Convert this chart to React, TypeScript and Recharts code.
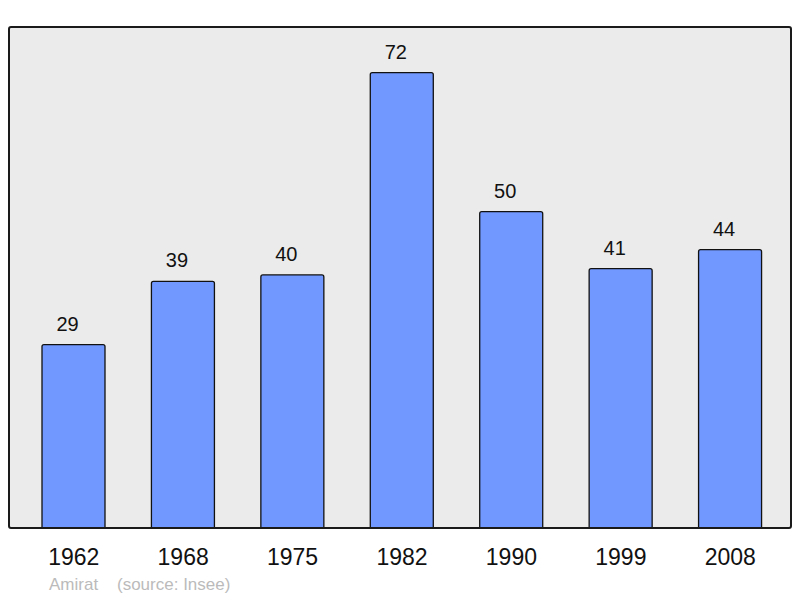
import { BarChart, Bar, XAxis, YAxis, CartesianGrid, LabelList } from "recharts";

const years = ["1962", "1968", "1975", "1982", "1990", "1999", "2008"];
const population = [29, 39, 40, 72, 50, 41, 44];

const data = years.map((year, i) => ({ year, population: population[i] }));

const font = "'Liberation Sans', Arial, sans-serif";

// value labels sit a little left of the bar centre in the original
const ValueLabel = (props: any) => {
  const { x, y, width, value } = props;
  return (
    <text
      x={Number(x) + Number(width) / 2 - 6}
      y={Number(y) - 14}
      textAnchor="middle"
      fill="#111"
      fontSize={20}
      fontFamily={font}
    >
      {value}
    </text>
  );
};

export default function App() {
  return (
    <div style={{ position: "absolute", left: 0, top: 0, width: 800, height: 598, background: "#fff", fontFamily: font }}>
      <BarChart
        width={800}
        height={598}
        data={data}
        margin={{ top: 27, right: 9, bottom: 30, left: 9 }}
        barCategoryGap={0}
      >
        <CartesianGrid fill="#ebebeb" horizontal={false} vertical={false} stroke="none" />
        <YAxis hide domain={[0, 79.2]} />
        <XAxis
          dataKey="year"
          height={40}
          padding={{ left: 10, right: 6 }}
          axisLine={false}
          tickLine={false}
          tickSize={0}
          tickMargin={21}
          tick={{ fill: "#111", fontSize: 23, fontFamily: font }}
          interval={0}
        />
        <Bar
          dataKey="population"
          fill="#7098ff"
          stroke="#111"
          strokeWidth={1.3}
          barSize={63}
          radius={[2, 2, 0, 0]}
          isAnimationActive={false}
        >
          <LabelList dataKey="population" content={ValueLabel} />
        </Bar>
      </BarChart>
      <div
        style={{
          position: "absolute",
          left: 8,
          top: 26,
          width: 784,
          height: 503,
          boxSizing: "border-box",
          border: "2px solid #1a1a1a",
          borderRadius: 3,
          pointerEvents: "none",
        }}
      />
      <div
        style={{
          position: "absolute",
          left: 49,
          top: 576,
          fontSize: 17,
          lineHeight: "17px",
          color: "#bbbbbb",
          whiteSpace: "pre",
        }}
      >
        {"Amirat    (source: Insee)"}
      </div>
    </div>
  );
}
